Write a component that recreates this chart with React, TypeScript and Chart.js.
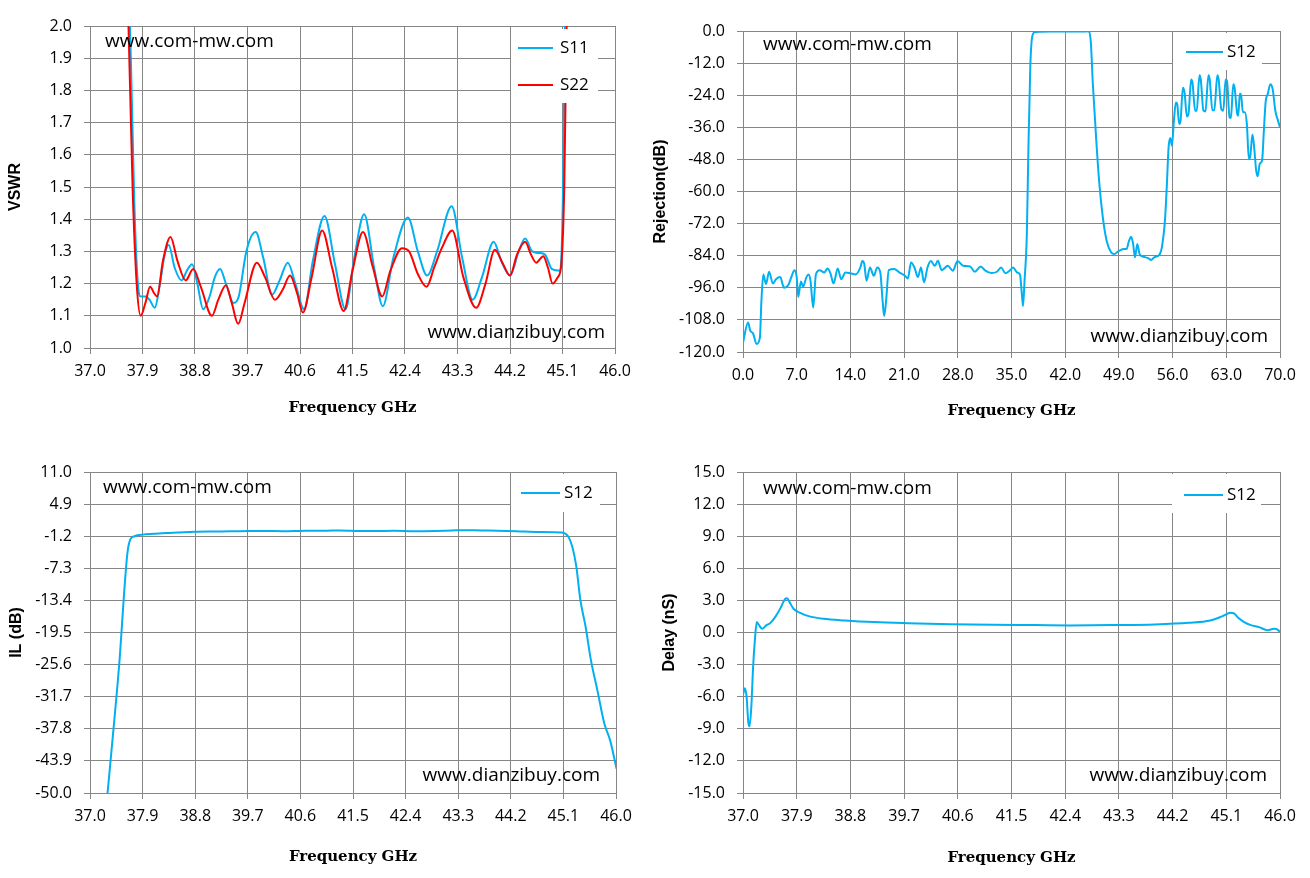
import React, { useEffect, useRef } from 'react';
import Chart from 'chart.js/auto';

// ---- VSWR (top left) ----
const s11Freq = [37.62, 37.7, 37.76, 37.82, 37.87, 37.95, 38.02, 38.11, 38.2, 38.28, 38.35, 38.45, 38.57, 38.66, 38.75, 38.84, 38.94, 39.05, 39.14, 39.23, 39.33, 39.46, 39.55, 39.68, 39.84, 39.97, 40.12, 40.25, 40.39, 40.52, 40.67, 40.82, 41.02, 41.2, 41.38, 41.53, 41.7, 41.87, 42.02, 42.2, 42.45, 42.62, 42.78, 42.95, 43.2, 43.38, 43.56, 43.72, 43.92, 44.05, 44.2, 44.35, 44.46, 44.58, 44.7, 44.8, 44.92, 45.06, 45.11, 45.14, 45.17];
const s11Vswr = [2.4, 1.9, 1.45, 1.2, 1.16, 1.16, 1.15, 1.125, 1.2, 1.29, 1.32, 1.25, 1.21, 1.24, 1.26, 1.2, 1.12, 1.16, 1.22, 1.245, 1.2, 1.14, 1.16, 1.3, 1.36, 1.28, 1.165, 1.21, 1.265, 1.2, 1.12, 1.27, 1.41, 1.26, 1.12, 1.28, 1.415, 1.25, 1.13, 1.28, 1.405, 1.3, 1.225, 1.3, 1.44, 1.28, 1.15, 1.22, 1.33, 1.27, 1.225, 1.3, 1.34, 1.3, 1.295, 1.29, 1.245, 1.24, 1.5, 2.0, 2.5];
const s22Freq = [37.6, 37.66, 37.73, 37.8, 37.87, 37.95, 38.03, 38.1, 38.15, 38.25, 38.38, 38.5, 38.64, 38.77, 38.9, 39.09, 39.2, 39.33, 39.43, 39.54, 39.65, 39.86, 40.0, 40.17, 40.3, 40.43, 40.55, 40.65, 40.8, 40.98, 41.15, 41.35, 41.5, 41.68, 41.85, 42.01, 42.15, 42.35, 42.47, 42.62, 42.77, 42.9, 43.03, 43.21, 43.4, 43.62, 43.78, 43.94, 44.07, 44.2, 44.32, 44.46, 44.56, 44.65, 44.77, 44.85, 44.93, 45.02, 45.08, 45.13, 45.17, 45.21];
const s22Vswr = [2.6, 2.0, 1.5, 1.2, 1.1, 1.14, 1.19, 1.17, 1.16, 1.27, 1.345, 1.27, 1.21, 1.245, 1.19, 1.1, 1.15, 1.195, 1.14, 1.075, 1.14, 1.265, 1.22, 1.15, 1.18, 1.225, 1.17, 1.11, 1.22, 1.365, 1.25, 1.115, 1.24, 1.36, 1.25, 1.16, 1.24, 1.31, 1.3, 1.23, 1.19, 1.25, 1.31, 1.365, 1.22, 1.125, 1.2, 1.305, 1.265, 1.225, 1.29, 1.33, 1.29, 1.265, 1.285, 1.25, 1.2, 1.22, 1.26, 1.5, 2.0, 2.6];
const vswrTicks = [1.0, 1.1, 1.2, 1.3, 1.4, 1.5, 1.6, 1.7, 1.8, 1.9, 2.0];
const bandTicks = [37.0, 37.9, 38.8, 39.7, 40.6, 41.5, 42.4, 43.3, 44.2, 45.1, 46.0];

// ---- Rejection (top right) ----
const rejFreq = [0, 0.66, 0.94, 1.3, 1.77, 2.2, 2.4, 2.65, 3.0, 3.4, 3.9, 4.3, 4.85, 5.35, 5.9, 6.3, 6.7, 7.0, 7.2, 7.55, 7.83, 8.27, 8.55, 8.8, 9.15, 9.5, 10.0, 10.6, 11.0, 11.4, 11.8, 12.35, 12.8, 13.35, 14.0, 14.7, 15.3, 15.55, 15.8, 16.1, 16.55, 17.05, 17.5, 17.9, 18.2, 18.4, 18.65, 19.0, 19.7, 20.4, 21.1, 21.5, 21.9, 22.35, 22.8, 23.2, 23.6, 24.05, 24.5, 25.0, 25.4, 25.9, 26.7, 27.35, 27.97, 28.7, 29.6, 30.2, 31.0, 31.55, 32.4, 33.1, 33.65, 34.2, 34.75, 35.2, 35.75, 36.1, 36.35, 36.5, 36.7, 37.0, 37.2, 37.45, 37.7, 38.05, 38.7, 40.0, 41.5, 43.0, 44.5, 44.8, 45.1, 45.35, 45.6, 46.05, 46.45, 46.9, 47.4, 48.0, 48.4, 48.9, 49.6, 50.0, 50.3, 50.6, 50.85, 51.1, 51.4, 51.7, 52.2, 52.8, 53.2, 53.6, 54.3, 54.6, 55.0, 55.22, 55.48, 55.7, 55.91, 56.17, 56.43, 56.6, 56.86, 57.04, 57.34, 57.56, 57.86, 58.07, 58.42, 58.59, 58.94, 59.15, 59.5, 59.67, 60.02, 60.28, 60.67, 60.84, 61.18, 61.44, 61.83, 62.0, 62.35, 62.61, 62.91, 63.09, 63.43, 63.6, 63.91, 64.08, 64.42, 64.55, 64.77, 64.94, 65.16, 65.42, 65.68, 65.94, 66.11, 66.41, 66.67, 66.89, 67.1, 67.36, 67.66, 67.92, 68.14, 68.4, 68.74, 69.05, 69.39, 69.74, 70.0];
const rejS12 = [-116.5, -109, -112, -113, -117, -114.6, -101, -91, -94.6, -90, -94.4, -92.8, -92, -96, -95, -92, -89.4, -92, -99.4, -93.6, -95.6, -92, -91, -93.4, -103.4, -91, -89.4, -90.3, -88.8, -90.6, -94.4, -88.8, -92.8, -90.3, -90.6, -91, -88.4, -86, -87, -93.4, -88.4, -91.5, -88.4, -90.3, -101, -106.5, -101, -89.4, -89, -90.3, -91.5, -92.5, -86.5, -88.4, -92, -88.4, -94, -88.4, -86, -87.8, -85.9, -89.4, -87.8, -89.6, -86, -87.8, -88, -90, -88, -89.5, -90.5, -90, -88.4, -90.6, -89.6, -88.4, -90.3, -91, -98.4, -102.8, -93.4, -75.9, -44.6, -13.4, -2.1, -0.4, -0.25, -0.2, -0.2, -0.15, -0.2, -0.1, -0.25, -4.6, -19.6, -40.9, -57.1, -69.6, -78.4, -82.8, -83.4, -82.4, -81.5, -81.5, -78.6, -76.9, -79.6, -84.6, -79.6, -83.4, -84.4, -84.9, -85.6, -84.6, -83.6, -80.9, -70.9, -59.5, -43.4, -40, -42.8, -33.5, -26.7, -27.3, -34.8, -33.5, -21.2, -23, -32, -31, -18.1, -19.3, -29.8, -29.8, -16.5, -18.1, -29.8, -30.1, -16.5, -18.1, -29.6, -29.6, -16.5, -18.1, -29.2, -29.8, -18.1, -18.7, -32.3, -32.5, -19.9, -21.2, -31, -31.7, -23.4, -24.2, -30.4, -30.4, -34.8, -47.8, -47.1, -38.7, -44.7, -52.1, -54.3, -49.6, -48.4, -36, -26.1, -23.6, -19.9, -21.8, -29.8, -33.5, -36];
const wideTicks = [0, 7, 14, 21, 28, 35, 42, 49, 56, 63, 70];
const rejTicks = [-120, -108, -96, -84, -72, -60, -48, -36, -24, -12, 0];

// ---- Insertion loss (bottom left) ----
const ilFreq = [37.3, 37.4, 37.51, 37.58, 37.64, 37.69, 37.76, 37.9, 38.1, 38.29, 38.5, 38.79, 39.1, 39.4, 39.71, 40.0, 40.3, 40.7, 41.0, 41.28, 41.6, 41.84, 42.2, 42.55, 42.9, 43.2, 43.4, 43.7, 43.97, 44.3, 44.68, 45.07, 45.18, 45.25, 45.32, 45.39, 45.48, 45.57, 45.68, 45.8, 45.9, 46.01];
const ilS12 = [-50, -38.1, -24.1, -12.6, -4.4, -1.8, -1.2, -0.9, -0.75, -0.6, -0.5, -0.35, -0.3, -0.28, -0.22, -0.2, -0.25, -0.15, -0.18, -0.1, -0.2, -0.22, -0.18, -0.25, -0.2, -0.1, -0.05, -0.12, -0.15, -0.25, -0.4, -0.5, -1.2, -3.1, -6.9, -13.3, -18.4, -24.7, -30.4, -36.8, -40, -45.4];
const ilTicks = [-50, -43.9, -37.8, -31.7, -25.6, -19.5, -13.4, -7.3, -1.2, 4.9, 11.0];

// ---- Group delay (bottom right) ----
const delayFreq = [37.0, 37.03, 37.06, 37.09, 37.11, 37.14, 37.17, 37.2, 37.23, 37.26, 37.32, 37.39, 37.46, 37.55, 37.63, 37.7, 37.74, 37.78, 37.85, 37.96, 38.1, 38.35, 38.71, 39.2, 39.77, 40.48, 41.2, 41.91, 42.48, 43.19, 43.9, 44.47, 44.83, 45.04, 45.17, 45.23, 45.3, 45.4, 45.51, 45.65, 45.79, 45.9, 45.97, 46.0];
const delayS12 = [-5.8, -5.2, -6.0, -8.45, -8.76, -6.9, -3.15, -0.65, 0.97, 0.75, 0.35, 0.66, 0.9, 1.53, 2.3, 3.1, 3.2, 2.84, 2.2, 1.84, 1.53, 1.28, 1.12, 0.97, 0.87, 0.78, 0.72, 0.69, 0.66, 0.69, 0.75, 0.9, 1.12, 1.53, 1.84, 1.78, 1.37, 0.97, 0.69, 0.5, 0.22, 0.34, 0.22, 0.03];
const delayTicks = [-15, -12, -9, -6, -3, 0, 3, 6, 9, 12, 15];

const BLUE = '#00B0F0';
const RED = '#FF0000';
const GRID = '#868686';

type Series = { label: string; freq: number[]; values: number[]; color: string };

interface PanelProps {
	box: { left: number; top: number; width: number; height: number };
	plot: { l: number; r: number; t: number; b: number };
	series: Series[];
	xTicks: number[];
	yTicks: number[];
	yTitle: string;
	yTitlePad: number;
	xTitlePad: number;
	legend: { x: number; y: number; w: number; h: number; rows: number[]; lineX: [number, number]; textX: number };
	marks: { topLeft: [number, number]; bottomRight: [number, number] };
}

function Panel(props: PanelProps) {
	const chartRef = useRef<HTMLCanvasElement>(null);
	const chartInstance = useRef<Chart | null>(null);
	const { box, plot } = props;

	useEffect(() => {
		if (chartInstance.current) {
			chartInstance.current.destroy();
		}
		if (!chartRef.current) return;
		const ctx = chartRef.current.getContext('2d');
		if (!ctx) return;

		const ox = box.left;
		const oy = box.top;
		const yW = plot.l - box.left;
		const xH = box.top + box.height - plot.b;

		// legend box and watermarks, drawn over the lines
		const extras = {
			id: 'extras',
			afterDatasetsDraw(chart: Chart) {
				const c = chart.ctx;
				const lg = props.legend;
				c.save();
				c.fillStyle = '#fff';
				c.fillRect(lg.x - ox, lg.y - oy, lg.w, lg.h);
				props.series.forEach((s, i) => {
					const y = lg.rows[i] - oy;
					c.strokeStyle = s.color;
					c.lineWidth = 2;
					c.beginPath();
					c.moveTo(lg.lineX[0] - ox, y);
					c.lineTo(lg.lineX[1] - ox, y);
					c.stroke();
					c.fillStyle = '#000';
					c.font = '17px "Open Sans"';
					c.textAlign = 'left';
					c.textBaseline = 'middle';
					c.fillText(s.label, lg.textX - ox, y);
				});
				c.font = '19px "Open Sans"';
				c.fillStyle = '#000';
				c.textBaseline = 'middle';
				c.textAlign = 'left';
				c.fillText('www.com-mw.com', props.marks.topLeft[0] - ox, props.marks.topLeft[1] - oy);
				c.textAlign = 'right';
				c.fillText('www.dianzibuy.com', props.marks.bottomRight[0] - ox, props.marks.bottomRight[1] - oy);
				c.restore();
			}
		};

		const tickFont = { family: '"Open Sans"', size: 16 };

		chartInstance.current = new Chart(ctx, {
			type: 'line',
			data: {
				datasets: props.series.map((s, i) => ({
					label: s.label,
					data: s.freq.map((f, k) => ({ x: f, y: s.values[k] })),
					borderColor: s.color,
					backgroundColor: s.color,
					borderWidth: 2,
					pointRadius: 0,
					fill: false,
					cubicInterpolationMode: 'monotone',
					order: props.series.length - i
				}))
			},
			options: {
				responsive: false,
				animation: false,
				devicePixelRatio: 1,
				layout: { padding: { left: 0, top: plot.t - box.top, right: box.left + box.width - plot.r, bottom: 0 } },
				plugins: { legend: { display: false }, tooltip: { enabled: false } },
				scales: {
					x: {
						type: 'linear',
						min: props.xTicks[0],
						max: props.xTicks[props.xTicks.length - 1],
						afterBuildTicks: (s: any) => {
							s.ticks = props.xTicks.map((v) => ({ value: v }));
						},
						afterFit: (s: any) => {
							s.height = xH;
						},
						grid: { color: GRID, tickLength: 6, lineWidth: 1 },
						border: { color: GRID },
						ticks: {
							autoSkip: false,
							maxRotation: 0,
							padding: 8,
							color: '#000',
							font: tickFont,
							callback: (v: any) => Number(v).toFixed(1)
						},
						title: {
							display: true,
							text: 'Frequency GHz',
							color: '#000',
							font: { family: '"DejaVu Serif"', weight: 'bold', size: 15 },
							padding: { top: 0, bottom: props.xTitlePad }
						}
					},
					y: {
						type: 'linear',
						min: props.yTicks[0],
						max: props.yTicks[props.yTicks.length - 1],
						afterBuildTicks: (s: any) => {
							s.ticks = props.yTicks.map((v) => ({ value: v }));
						},
						afterFit: (s: any) => {
							s.width = yW;
						},
						grid: { color: GRID, tickLength: 6, lineWidth: 1 },
						border: { color: GRID },
						ticks: {
							padding: 12,
							color: '#000',
							font: tickFont,
							callback: (v: any) => Number(v).toFixed(1)
						},
						title: {
							display: true,
							text: props.yTitle,
							color: '#000',
							font: { family: '"Liberation Sans"', weight: 'bold', size: 16 },
							padding: { top: props.yTitlePad, bottom: 0 }
						}
					}
				}
			},
			plugins: [extras]
		} as any);

		return () => {
			if (chartInstance.current) {
				chartInstance.current.destroy();
				chartInstance.current = null;
			}
		};
	}, []);

	return (
		<div style={{ position: 'absolute', left: box.left, top: box.top, width: box.width, height: box.height }}>
			<canvas ref={chartRef} width={box.width} height={box.height} style={{ display: 'block' }}></canvas>
		</div>
	);
}

export default function App() {
	return (
		<div style={{ position: 'fixed', left: 0, top: 0, width: 1310, height: 878, background: '#fff', overflow: 'hidden' }}>
			<Panel
				box={{ left: 0, top: 0, width: 648, height: 439 }}
				plot={{ l: 90, r: 615, t: 26, b: 348 }}
				series={[
					{ label: 'S11', freq: s11Freq, values: s11Vswr, color: BLUE },
					{ label: 'S22', freq: s22Freq, values: s22Vswr, color: RED }
				]}
				xTicks={bandTicks}
				yTicks={vswrTicks}
				yTitle="VSWR"
				yTitlePad={6}
				xTitlePad={22}
				legend={{ x: 511, y: 29, w: 87, h: 74, rows: [48, 85], lineX: [518, 553], textX: 560 }}
				marks={{ topLeft: [105, 42], bottomRight: [605, 333] }}
			/>
			<Panel
				box={{ left: 648, top: 0, width: 662, height: 439 }}
				plot={{ l: 743, r: 1280, t: 31, b: 352 }}
				series={[{ label: 'S12', freq: rejFreq, values: rejS12, color: BLUE }]}
				xTicks={wideTicks}
				yTicks={rejTicks}
				yTitle="Rejection(dB)"
				yTitlePad={3}
				xTitlePad={19}
				legend={{ x: 1173, y: 33, w: 89, h: 37, rows: [52], lineX: [1186, 1223], textX: 1227 }}
				marks={{ topLeft: [763, 45], bottomRight: [1268, 337] }}
			/>
			<Panel
				box={{ left: 0, top: 439, width: 648, height: 439 }}
				plot={{ l: 90, r: 616, t: 472, b: 793 }}
				series={[{ label: 'S12', freq: ilFreq, values: ilS12, color: BLUE }]}
				xTicks={bandTicks}
				yTicks={ilTicks}
				yTitle="IL (dB)"
				yTitlePad={7}
				xTitlePad={12}
				legend={{ x: 511, y: 474, w: 89, h: 38, rows: [493], lineX: [521, 560], textX: 564 }}
				marks={{ topLeft: [103, 488], bottomRight: [600, 776] }}
			/>
			<Panel
				box={{ left: 648, top: 439, width: 662, height: 439 }}
				plot={{ l: 743, r: 1280, t: 472, b: 793 }}
				series={[{ label: 'S12', freq: delayFreq, values: delayS12, color: BLUE }]}
				xTicks={bandTicks}
				yTicks={delayTicks}
				yTitle="Delay (nS)"
				yTitlePad={12}
				xTitlePad={11}
				legend={{ x: 1172, y: 474, w: 89, h: 39, rows: [495], lineX: [1184, 1223], textX: 1227 }}
				marks={{ topLeft: [763, 489], bottomRight: [1267, 776] }}
			/>
		</div>
	);
}
